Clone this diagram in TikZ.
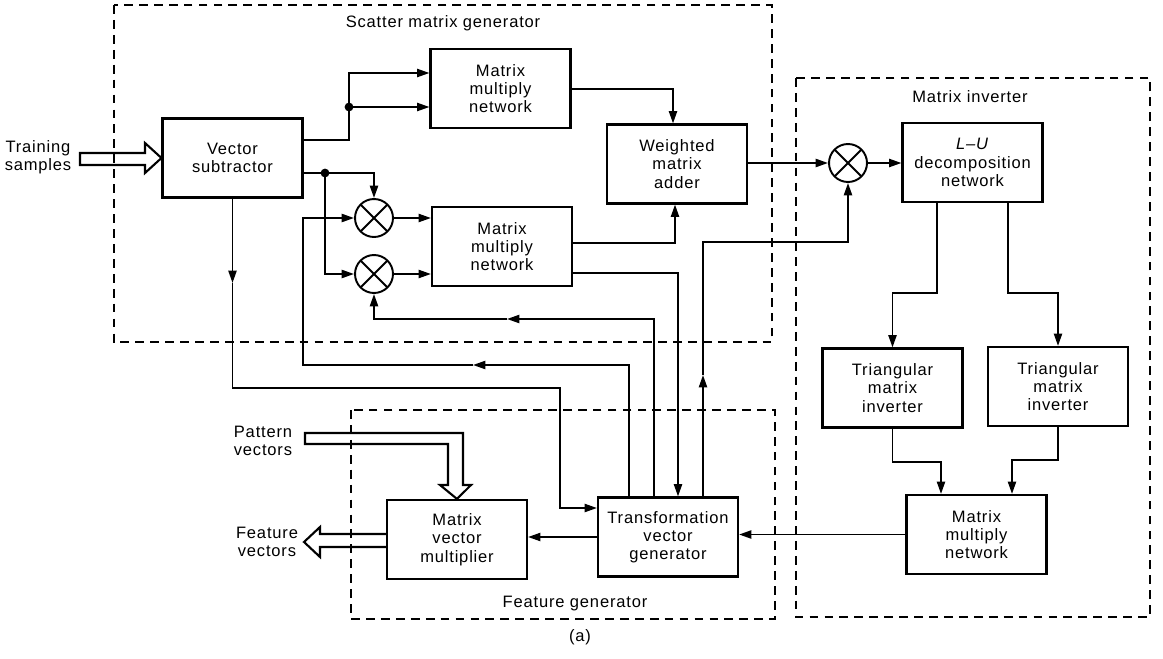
\documentclass[tikz,border=0pt]{standalone}
\usepackage{fontspec}
\setmainfont[LetterSpace=5]{Liberation Sans}
\usetikzlibrary{arrows.meta}

\begin{document}
\begin{tikzpicture}[x=0.02cm,y=-0.02cm,
  font=\fontsize{9.4}{10.4}\selectfont,
  block/.style={draw,line width=1.2pt,minimum width=2.8cm,minimum height=1.58cm,align=center,inner sep=1pt},
  mult/.style={draw,circle,line width=1.1pt,minimum size=0.76cm,inner sep=0pt,
    path picture={\draw[line width=1.1pt]
      (path picture bounding box.north west)--(path picture bounding box.south east)
      (path picture bounding box.north east)--(path picture bounding box.south west);}},
  wire/.style={line width=1.1pt},
  arr/.style={wire,-{Triangle[length=7pt,width=4.6pt]}},
  group/.style={draw,line width=0.6pt,dash pattern=on 5pt off 3.5pt},
  hollow/.style={draw,line width=1.2pt,line join=miter},
  dot/.style={circle,fill,inner sep=0pt,minimum size=5pt},
  lbl/.style={align=center,inner sep=0pt}
]
\useasboundingbox (0,0) rectangle (1163,659);

% functional groups
\draw[group] (114,5) rectangle (772,342);
\draw[group] (796,78) rectangle (1150,617);
\draw[group] (351,410) rectangle (775,619);
\node[lbl] (lsmg) at (443,23) {Scatter matrix generator};
\node[lbl] (lmi) at (970,97) {Matrix inverter};
\node[lbl] (lfg) at (575,604) {Feature generator};

% blocks
\node[block] (vs)  at (232.5,158)  {Vector\\subtractor};
\node[block] (mm1) at (500.5,88.5) {Matrix\\multiply\\network};
\node[block] (wma) at (677,164)    {Weighted\\matrix\\adder};
\node[block] (mm2) at (502,246.5)  {Matrix\\multiply\\network};
\node[block] (lu)  at (972.5,162.5) {\textit{L--U}\\decomposition\\network};
\node[block] (tm1) at (892.5,388)  {Triangular\\matrix\\inverter};
\node[block] (tm2) at (1058,386.5) {Triangular\\matrix\\inverter};
\node[block] (mm3) at (976.5,534.5) {Matrix\\multiply\\network};
\node[block] (tvg) at (668,537)    {Transformation\\vector\\generator};
\node[block] (mvm) at (457,539.5)  {Matrix\\vector\\multiplier};

% multipliers
\node[mult] (x1) at (374,218) {};
\node[mult] (x2) at (374,274) {};
\node[mult] (x3) at (848,163) {};

% outside labels
\node[lbl] (ts) at (38,157) {Training\\samples};
\node[lbl] (pv) at (263,441) {Pattern\\vectors};
\node[lbl] (fv) at (267,542) {Feature\\vectors};
\node[lbl] (cap) at (580,637) {(a)};

% bend points
\coordinate (ja) at (349,107);
\coordinate (jb) at (325,173);
\coordinate (a1) at (349,140);
\coordinate (a2) at (349,73);
\coordinate (b1) at (374,173);
\coordinate (b2) at (325,274);
\coordinate (c1) at (673,89);
\coordinate (c2) at (675,243);
\coordinate (d1) at (937,293);
\coordinate (d2) at (892.5,293);
\coordinate (d3) at (1008,293);
\coordinate (d4) at (1058,293);
\coordinate (e1) at (892.5,462);
\coordinate (e2) at (941,462);
\coordinate (e3) at (1058,460);
\coordinate (e4) at (1012,460);
\coordinate (f0) at (232.5,283);
\coordinate (f1) at (232.5,388);
\coordinate (f2) at (560,388);
\coordinate (f3) at (560,508);
\coordinate (g1) at (629,365);
\coordinate (g2) at (473,365);
\coordinate (g3) at (303,365);
\coordinate (g4) at (303,218);
\coordinate (h1) at (654,319);
\coordinate (h2) at (507,319);
\coordinate (h3) at (374,319);
\coordinate (k1) at (678,273);
\coordinate (n0) at (703,375);
\coordinate (n1) at (703,242);
\coordinate (n2) at (848,242);

% scatter matrix generator wiring
\draw[arr] (vs.east |- a1) -- (a1) -- (a2) -- (mm1.west |- a2);
\draw[arr] (ja) -- (mm1.west |- ja);
\node[dot] (dja) at (ja) {};
\draw[arr] (vs.east |- b1) -- (b1) -- (x1.north);
\draw[arr] (jb) -- (b2) -- (x2.west);
\node[dot] (djb) at (jb) {};
\draw[arr] (x1.east) -- (mm2.west |- x1);
\draw[arr] (x2.east) -- (mm2.west |- x2);
\draw[arr] (mm1.east |- c1) -- (c1) -- (wma.north -| c1);
\draw[arr] (mm2.east |- c2) -- (c2) -- (wma.south -| c2);
\draw[arr] (wma.east |- x3) -- (x3.west);
\draw[arr] (x3.east) -- (lu.west |- x3);

% matrix inverter wiring
\draw[arr] (lu.south -| d1) -- (d1) -- (d2) -- (tm1.north);
\draw[arr] (lu.south -| d3) -- (d3) -- (d4) -- (tm2.north -| d4);
\draw[arr] (tm1.south) -- (e1) -- (e2) -- (mm3.north -| e2);
\draw[arr] (tm2.south -| e3) -- (e3) -- (e4) -- (mm3.north -| e4);
\draw[arr] (mm3.west) -- (tvg.east |- mm3.west);

% feature generator wiring
\draw[arr] (tvg.west) -- (mvm.east |- tvg.west);
\draw[arr] (vs.south) -- (f0);
\draw[arr] (f0) -- (f1) -- (f2) -- (f3) -- (tvg.west |- f3);
\draw[arr] (tvg.north -| g1) -- (g1) -- (g2);
\draw[arr] (g2) -- (g3) -- (g4) -- (x1.west);
\draw[arr] (tvg.north -| h1) -- (h1) -- (h2);
\draw[arr] (h2) -- (h3) -- (x2.south);
\draw[arr] (mm2.east |- k1) -- (k1) -- (tvg.north -| k1);
\draw[arr] (tvg.north -| n0) -- (n0);
\draw[arr] (n0) -- (n1) -- (n2) -- (x3.south);

% broad (hollow) data arrows
\draw[hollow] (80,153) -- (145,153) -- (145,143) -- (vs.west) -- (145,173) -- (145,165) -- (80,165) -- cycle;
\draw[hollow] (305,433) -- (463,433) -- (463,485) -- (471,485) -- (mvm.north) -- (440,485) -- (448,485) -- (448,444) -- (305,444) -- cycle;
\draw[hollow] (mvm.west |- 0,534) -- (320,534) -- (320,527) -- (304,542) -- (320,557) -- (320,547) -- (mvm.west |- 0,547);
\end{tikzpicture}
\end{document}
